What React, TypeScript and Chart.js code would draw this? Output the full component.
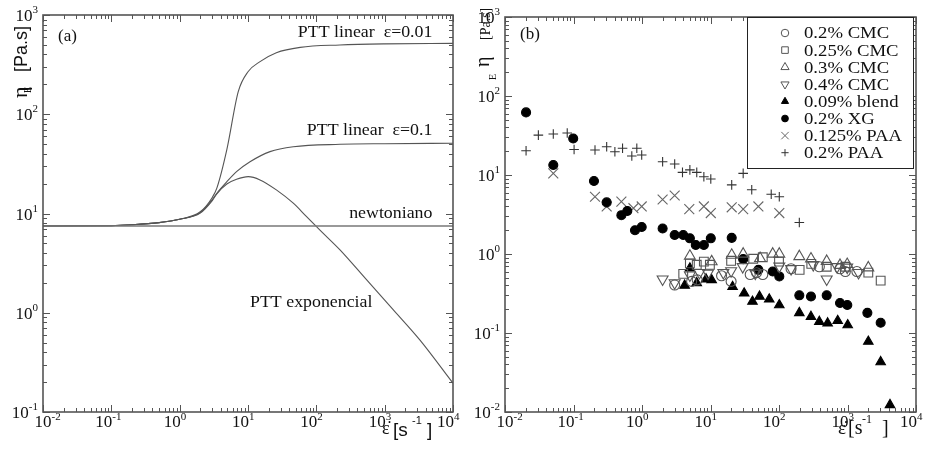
import React, { useEffect, useRef } from 'react';
import { Chart, registerables } from 'chart.js';

Chart.register(...registerables);

const SERIF = '"Liberation Serif", "Times New Roman", Times, serif';
const SANS = '"Liberation Sans", Arial, Helvetica, sans-serif';
const INK = '#111';
const FRAME = '#555';

// ---------------- Panel (a): model curves ----------------
const newtX = [0.01, 10000];
const newtY = [7.5, 7.5];

const lin001X = [0.01, 0.1, 0.2, 0.5, 1, 2, 3, 3.5, 4.9, 7.2, 10, 15, 26, 58, 220, 1000, 10000];
const lin001Y = [7.5, 7.55, 7.7, 8.1, 8.75, 10.4, 14.5, 18, 44, 169, 268, 339, 417, 472, 499, 512, 518];

const lin01X = [0.01, 0.1, 0.2, 0.5, 1, 2, 3, 3.5, 4.9, 6.8, 10.7, 21, 46, 222, 1000, 10000];
const lin01Y = [7.5, 7.55, 7.7, 8.1, 8.75, 10.2, 13.8, 16, 20.9, 26.4, 33.2, 42, 47.1, 49.8, 50.5, 51];

const expX = [0.01, 0.1, 0.2, 0.5, 1, 2, 3, 3.5, 4.9, 6.8, 10.1, 15, 26, 46, 72, 113, 222, 546, 1340, 3290, 10000];
const expY = [7.5, 7.55, 7.7, 8.1, 8.75, 10.1, 13.5, 15.8, 19.8, 22.1, 23.5, 21.8, 17.3, 12.7, 9.3, 6.8, 4.3, 2.14, 1.07, 0.53, 0.195];

const annotationsA = [
  { text: 'PTT linear  ε=0.01', x: 5000, y: 660, align: 'right' },
  { text: 'PTT linear  ε=0.1', x: 5000, y: 68, align: 'right' },
  { text: 'newtoniano', x: 5000, y: 9.9, align: 'right' },
  { text: 'PTT exponencial', x: 10.7, y: 1.28, align: 'left' },
];

// ---------------- Panel (b): measurements ----------------
const cmc02X = [3.0, 5.3, 6.4, 14.5, 20, 38, 47, 58, 150, 388, 778, 930, 1370];
const cmc02Y = [0.405, 0.45, 0.47, 0.53, 0.45, 0.55, 0.58, 0.55, 0.65, 0.69, 0.65, 0.6, 0.6];

const cmc025X = [4.0, 5.0, 6.3, 8.0, 9.8, 20, 42, 58, 100, 200, 296, 497, 930, 2013, 3050];
const cmc025Y = [0.56, 0.76, 0.73, 0.8, 0.73, 0.82, 0.87, 0.91, 0.8, 0.63, 0.75, 0.69, 0.69, 0.58, 0.46];

const cmc03X = [5.0, 10.4, 20.4, 30, 53, 81, 101, 198, 293, 497, 778, 990, 2013];
const cmc03Y = [0.94, 0.8, 0.97, 1.0, 0.88, 1.0, 1.0, 0.93, 0.87, 0.81, 0.72, 0.74, 0.67];

const cmc04X = [2.0, 3.0, 5.0, 6.9, 9.2, 15.4, 20, 29.5, 45, 101, 150, 316, 497, 704, 990, 1450];
const cmc04Y = [0.48, 0.43, 0.54, 0.58, 0.57, 0.58, 0.61, 0.69, 0.57, 0.7, 0.65, 0.73, 0.48, 0.69, 0.68, 0.58];

const blendX = [4.2, 5.0, 6.3, 8.6, 10.4, 21, 31, 41, 52, 72, 101, 198, 293, 388, 513, 719, 1007, 2013, 3050, 4170];
const blendY = [0.4, 0.66, 0.43, 0.48, 0.47, 0.385, 0.318, 0.25, 0.29, 0.267, 0.226, 0.18, 0.161, 0.139, 0.133, 0.143, 0.126, 0.078, 0.043, 0.0123];

const xgX = [0.0203, 0.0507, 0.099, 0.199, 0.305, 0.5, 0.61, 0.79, 0.99, 2.0, 3.0, 4.0, 5.0, 6.1, 8.0, 10.1, 20.4, 30, 50, 81, 101, 198, 293, 497, 778, 993, 1950, 3050];
const xgY = [62, 13.4, 29, 8.4, 4.5, 3.1, 3.5, 2.0, 2.2, 2.1, 1.74, 1.74, 1.58, 1.3, 1.3, 1.58, 1.6, 0.86, 0.63, 0.6, 0.52, 0.3, 0.29, 0.3, 0.24, 0.226, 0.18, 0.135];

const paa0125X = [0.0507, 0.206, 0.305, 0.5, 0.75, 0.99, 2.0, 3.0, 4.9, 8.0, 10.1, 20.4, 30, 50, 101];
const paa0125Y = [10.5, 5.3, 4.0, 4.6, 3.8, 4.0, 4.9, 5.5, 3.7, 4.0, 3.3, 3.9, 3.7, 4.0, 3.3];

const paa02X = [0.0203, 0.0307, 0.0507, 0.081, 0.102, 0.206, 0.305, 0.402, 0.52, 0.71, 0.84, 0.99, 2.0, 3.0, 3.9, 5.0, 6.3, 8.0, 10.1, 20.4, 30, 40, 77, 101, 198];
const paa02Y = [20.3, 32, 33, 34, 21, 20.7, 22.8, 19.7, 21.8, 17.4, 21.8, 17.9, 14.7, 13.8, 10.8, 11.6, 10.8, 9.5, 8.9, 7.5, 10.5, 6.5, 5.7, 5.3, 2.5];

const xTickExps = [-2, -1, 0, 1, 2, 3, 4];
const yTickExpsA = [-1, 0, 1, 2, 3];
const yTickExpsB = [-2, -1, 0, 1, 2, 3];

const pts = (xs: number[], ys: number[]) => xs.map((x, i) => ({ x, y: ys[i] }));

// ---------------- drawing helpers ----------------
function txt(ctx: CanvasRenderingContext2D, s: string, x: number, y: number, font: string,
  align: 'left' | 'right' | 'center' = 'left', baseline: CanvasTextBaseline = 'alphabetic', sx = 1, color = INK) {
  ctx.save();
  ctx.font = font;
  ctx.fillStyle = color;
  ctx.textBaseline = baseline;
  ctx.textAlign = 'left';
  const w = ctx.measureText(s).width * sx;
  let x0 = x;
  if (align === 'right') x0 = x - w;
  else if (align === 'center') x0 = x - w / 2;
  ctx.translate(x0, y);
  ctx.scale(sx, 1);
  ctx.fillText(s, 0, 0);
  ctx.restore();
  return w;
}

function rtxt(ctx: CanvasRenderingContext2D, s: string, bx: number, yStart: number, font: string) {
  ctx.save();
  ctx.font = font;
  ctx.fillStyle = INK;
  ctx.textAlign = 'left';
  ctx.textBaseline = 'alphabetic';
  ctx.translate(bx, yStart);
  ctx.rotate(-Math.PI / 2);
  ctx.fillText(s, 0, 0);
  const w = ctx.measureText(s).width;
  ctx.restore();
  return w;
}

function logTicks(min: number, max: number) {
  const out: { v: number; major: boolean }[] = [];
  for (let e = Math.floor(Math.log10(min)); e <= Math.ceil(Math.log10(max)); e++) {
    for (let m = 1; m <= 9; m++) {
      const v = m * Math.pow(10, e);
      if (v >= min * 0.999 && v <= max * 1.001) out.push({ v, major: m === 1 });
    }
  }
  return out;
}

function drawFrame(chart: any, yExps: number[]) {
  const { ctx, chartArea: a, scales } = chart;
  const xs = scales.x, ys = scales.y;
  ctx.save();
  ctx.strokeStyle = FRAME;
  ctx.lineWidth = 1;
  ctx.beginPath();
  for (const t of logTicks(xs.min, xs.max)) {
    const px = Math.round(xs.getPixelForValue(t.v)) + 0.5;
    const L = t.major ? 7 : 4;
    ctx.moveTo(px, a.bottom); ctx.lineTo(px, a.bottom - L);
    ctx.moveTo(px, a.top); ctx.lineTo(px, a.top + L);
  }
  for (const t of logTicks(ys.min, ys.max)) {
    const py = Math.round(ys.getPixelForValue(t.v)) + 0.5;
    const L = t.major ? 7 : 4;
    ctx.moveTo(a.left, py); ctx.lineTo(a.left + L, py);
    ctx.moveTo(a.right, py); ctx.lineTo(a.right - L, py);
  }
  ctx.stroke();
  ctx.lineWidth = 1.6;
  ctx.strokeRect(a.left, a.top, a.right - a.left, a.bottom - a.top);
  ctx.restore();

  const baseFont = `17px ${SERIF}`;
  const supFont = `11px ${SERIF}`;
  xTickExps.forEach((e, i) => {
    const px = xs.getPixelForValue(Math.pow(10, e));
    ctx.save();
    ctx.font = baseFont;
    const wb = ctx.measureText('10').width;
    ctx.restore();
    const left = i === 0 ? px - wb / 2 : px - wb + 1;
    txt(ctx, '10', left, a.bottom + 15, baseFont);
    txt(ctx, String(e), left + wb, a.bottom + 8, supFont);
  });
  yExps.forEach((e) => {
    const py = ys.getPixelForValue(Math.pow(10, e));
    ctx.save();
    ctx.font = supFont;
    const ws = ctx.measureText(String(e)).width;
    ctx.restore();
    const supLeft = a.left - 5 - ws;
    txt(ctx, '10', supLeft, py + 6, baseFont, 'right');
    txt(ctx, String(e), supLeft, py - 2, supFont);
  });
}

function drawMarker(ctx: CanvasRenderingContext2D, style: string, rot: number, x: number, y: number, r: number,
  fill: string, stroke: string, lw: number) {
  ctx.save();
  ctx.translate(x, y);
  ctx.rotate((rot * Math.PI) / 180);
  ctx.beginPath();
  let closed = true;
  if (style === 'circle') ctx.arc(0, 0, r, 0, Math.PI * 2);
  else if (style === 'rect') { const s = r * Math.SQRT1_2; ctx.rect(-s, -s, 2 * s, 2 * s); }
  else if (style === 'triangle') {
    for (let k = 0; k < 3; k++) {
      const ang = (k * 2 * Math.PI) / 3;
      const px = Math.sin(ang) * r, py = -Math.cos(ang) * r;
      if (k === 0) ctx.moveTo(px, py); else ctx.lineTo(px, py);
    }
    ctx.closePath();
  } else if (style === 'cross') {
    closed = false;
    ctx.moveTo(0, -r); ctx.lineTo(0, r); ctx.moveTo(-r, 0); ctx.lineTo(r, 0);
  } else if (style === 'crossRot') {
    closed = false;
    const d = r * Math.SQRT1_2;
    ctx.moveTo(-d, -d); ctx.lineTo(d, d); ctx.moveTo(-d, d); ctx.lineTo(d, -d);
  }
  if (closed) { ctx.fillStyle = fill; ctx.fill(); }
  ctx.strokeStyle = stroke;
  ctx.lineWidth = lw;
  ctx.stroke();
  ctx.restore();
}

const noAxisSize = (s: any) => { s.width = 0; s.height = 0; };

function logAxis(min: number, max: number) {
  return {
    type: 'logarithmic' as const,
    min, max,
    ticks: { display: false },
    grid: { display: false },
    border: { display: false },
    title: { display: false },
    afterFit: noAxisSize,
  };
}

const panelAPlugin = {
  id: 'panelA',
  afterDatasetsDraw(chart: any) {
    const { ctx, chartArea: a, scales } = chart;
    drawFrame(chart, yTickExpsA);
    const annFont = `17px ${SERIF}`;
    for (const an of annotationsA) {
      txt(ctx, an.text, scales.x.getPixelForValue(an.x), scales.y.getPixelForValue(an.y), annFont,
        an.align as any, 'middle', 1.05);
    }
    txt(ctx, '(a)', a.left + 15, a.top + 22, annFont, 'left', 'middle');
    rtxt(ctx, 'η', 27, 98, `22px ${SERIF}`);
    rtxt(ctx, 'E', 31, 93, `10px ${SERIF}`);
    rtxt(ctx, '[Pa.s]', 27, 72, `18px ${SANS}`);
    const bl = a.bottom + 24;
    txt(ctx, 'ε\u0307', a.right - 71, bl - 2, `18px ${SERIF}`);
    txt(ctx, '[s', a.right - 60, bl, `19px ${SANS}`);
    txt(ctx, '-1', a.right - 41, bl - 12, `11px ${SANS}`);
    txt(ctx, ']', a.right - 26, bl, `19px ${SANS}`);
  },
};

const panelBPlugin = {
  id: 'panelB',
  afterDatasetsDraw(chart: any) {
    const { ctx, chartArea: a } = chart;
    drawFrame(chart, yTickExpsB);
    txt(ctx, '(b)', a.left + 15, a.top + 18, `17px ${SERIF}`, 'left', 'middle');
    const bx = a.right - 169, by = a.top, bw = 166, bh = 151;
    ctx.save();
    ctx.fillStyle = '#fff';
    ctx.fillRect(bx, by, bw, bh);
    ctx.strokeStyle = '#222';
    ctx.lineWidth = 1;
    ctx.strokeRect(bx + 0.5, by + 0.5, bw, bh);
    ctx.restore();
    chart.data.datasets.forEach((ds: any, i: number) => {
      const cy = by + 16 + i * 17.1;
      drawMarker(ctx, ds.pointStyle, ds.rotation || 0, bx + 38, cy, ds.pointRadius * 0.75,
        ds.backgroundColor, ds.borderColor, 1);
      txt(ctx, ds.label, bx + 57, cy + 1, `17px ${SERIF}`, 'left', 'middle', 1.1);
    });
    rtxt(ctx, '[Pa.s]', a.left - 15, a.top + 23, `14px ${SERIF}`);
    rtxt(ctx, 'η', a.left - 16, a.top + 50, `20px ${SERIF}`);
    rtxt(ctx, 'E', a.left - 9, a.top + 63, `10px ${SERIF}`);
    const bl = a.bottom + 22;
    txt(ctx, 'ε\u0307', a.right - 78, bl, `19px ${SERIF}`);
    txt(ctx, '[s', a.right - 68, bl, `20px ${SERIF}`);
    txt(ctx, '-1', a.right - 54, bl - 11, `12px ${SERIF}`);
    txt(ctx, ']', a.right - 34, bl, `20px ${SERIF}`);
  },
};

function PanelA() {
  const ref = useRef<HTMLCanvasElement>(null);
  useEffect(() => {
    const line = (label: string, xs: number[], ys: number[], color: string, w: number) => ({
      label, data: pts(xs, ys), showLine: true, pointRadius: 0, borderColor: color, borderWidth: w,
      cubicInterpolationMode: 'monotone' as const, fill: false,
    });
    const chart = new Chart(ref.current!, {
      type: 'scatter',
      data: {
        datasets: [
          line('newtoniano', newtX, newtY, '#777', 1.5),
          line('PTT linear ε=0.01', lin001X, lin001Y, '#555', 1.1),
          line('PTT linear ε=0.1', lin01X, lin01Y, '#555', 1.1),
          line('PTT exponencial', expX, expY, '#555', 1.1),
        ],
      },
      options: {
        responsive: false,
        animation: false,
        layout: { padding: { left: 43, right: 7, top: 15, bottom: 44 } },
        scales: { x: logAxis(0.01, 10000), y: logAxis(0.1, 1000) },
        plugins: { legend: { display: false }, tooltip: { enabled: false } },
        events: [],
      },
      plugins: [panelAPlugin],
    } as any);
    return () => chart.destroy();
  }, []);
  return <canvas ref={ref} width={460} height={456} />;
}

function PanelB() {
  const ref = useRef<HTMLCanvasElement>(null);
  useEffect(() => {
    const sc = (label: string, xs: number[], ys: number[], style: string, r: number, fill: string,
      stroke: string, rot = 0, lw = 1.1) => ({
      label, data: pts(xs, ys), pointStyle: style, pointRadius: r, rotation: rot,
      backgroundColor: fill, borderColor: stroke, borderWidth: lw, showLine: false, clip: false,
    });
    const open = 'rgba(255,255,255,0)';
    const chart = new Chart(ref.current!, {
      type: 'scatter',
      data: {
        datasets: [
          sc('0.2% CMC', cmc02X, cmc02Y, 'circle', 5, open, '#555'),
          sc('0.25% CMC', cmc025X, cmc025Y, 'rect', 6.2, open, '#555'),
          sc('0.3% CMC', cmc03X, cmc03Y, 'triangle', 6.3, open, '#555'),
          sc('0.4% CMC', cmc04X, cmc04Y, 'triangle', 6.3, open, '#555', 180),
          sc('0.09% blend', blendX, blendY, 'triangle', 5.5, '#000', '#000'),
          sc('0.2% XG', xgX, xgY, 'circle', 4.5, '#000', '#000'),
          sc('0.125% PAA', paa0125X, paa0125Y, 'crossRot', 7, open, '#666'),
          sc('0.2% PAA', paa02X, paa02Y, 'cross', 4.8, open, '#333'),
        ],
      },
      options: {
        responsive: false,
        animation: false,
        layout: { padding: { left: 45, right: 11, top: 17, bottom: 44 } },
        scales: { x: logAxis(0.01, 10000), y: logAxis(0.01, 1000) },
        plugins: { legend: { display: false }, tooltip: { enabled: false } },
        events: [],
      },
      plugins: [panelBPlugin],
    } as any);
    return () => chart.destroy();
  }, []);
  return <canvas ref={ref} width={467} height={456} />;
}

export default function App() {
  return (
    <div style={{ position: 'absolute', left: 0, top: 0, width: 927, height: 456, background: '#fff', overflow: 'hidden' }}>
      <div style={{ position: 'absolute', left: 0, top: 0, width: 460, height: 456 }}>
        <PanelA />
      </div>
      <div style={{ position: 'absolute', left: 460, top: 0, width: 467, height: 456 }}>
        <PanelB />
      </div>
    </div>
  );
}
